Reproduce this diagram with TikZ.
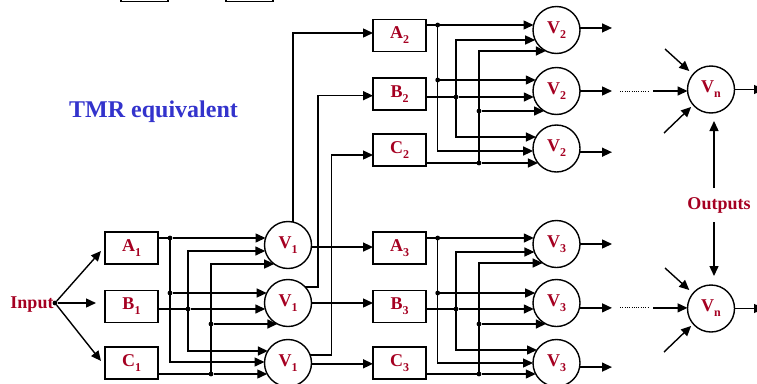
\documentclass[tikz,border=0pt]{standalone}
\usepackage{fontspec}
\setmainfont{Liberation Serif}
\usetikzlibrary{arrows.meta,calc}
\definecolor{lblred}{RGB}{165,0,33}
\definecolor{ttlblue}{RGB}{51,51,204}
\newcommand\lbl[2]{#1\raisebox{-5pt}{\fontsize{12}{12}\selectfont #2}}
\newcommand\hto[4]{\pgfmathtruncatemacro\myang{round(180+asin(((#3)-(#4))/23.5))}\draw[arr] (#1) -- (#1 -| #2.\myang);}
\begin{document}
\begin{tikzpicture}[x=1pt,y=-1pt,
  every node/.style={font=\fontsize{18}{18}\selectfont\bfseries, text=lblred},
  box/.style={draw, line width=1.4pt, minimum width=53pt, minimum height=32pt, inner sep=0pt, outer sep=0pt},
  vote/.style={draw, circle, line width=1.4pt, minimum size=47pt, inner sep=0pt, outer sep=0pt},
  ln/.style={line width=1.4pt, line cap=rect},
  arr/.style={line width=1.4pt, -{Triangle[length=10pt,width=9pt]}},
  jdot/.style={circle, fill=black, inner sep=0pt, minimum size=4.8pt},
  ttl/.style={font=\fontsize{24}{24}\selectfont\bfseries, text=ttlblue},
  dotln/.style={line width=0.9pt, dash pattern=on 1pt off 1.3pt},
]
\useasboundingbox (0,0) rectangle (757,383);
% boxes cut by the top edge
\draw[ln] (121,-12) rectangle (168,1.5);
\draw[ln] (226,-12) rectangle (273,1.5);

\node[ttl] (title) at (153.5,112) {TMR equivalent};
\node (inp) at (32,305) {Input};
\node (outp) at (719,205) {Outputs};

% modules
\node[box] (A1) at (131.5,248) {\lbl{A}{1}};
\node[box] (B1) at (131.5,306.5) {\lbl{B}{1}};
\node[box] (C1) at (131.5,363) {\lbl{C}{1}};
\node[box] (A2) at (399.5,35.5) {\lbl{A}{2}};
\node[box] (B2) at (399.5,94) {\lbl{B}{2}};
\node[box] (C2) at (399.5,150) {\lbl{C}{2}};
\node[box] (A3) at (399.5,248) {\lbl{A}{3}};
\node[box] (B3) at (399.5,306.5) {\lbl{B}{3}};
\node[box] (C3) at (399.5,363) {\lbl{C}{3}};
% voters
\node[vote] (V1a) at (288,245) {\lbl{V}{1}};
\node[vote] (V1b) at (288,303) {\lbl{V}{1}};
\node[vote] (V1c) at (288,363) {\lbl{V}{1}};
\node[vote] (V2a) at (556.5,30) {\lbl{V}{2}};
\node[vote] (V2b) at (556.5,91) {\lbl{V}{2}};
\node[vote] (V2c) at (556.5,148.5) {\lbl{V}{2}};
\node[vote] (V3a) at (556.5,244) {\lbl{V}{3}};
\node[vote] (V3b) at (556.5,303) {\lbl{V}{3}};
\node[vote] (V3c) at (556.5,363) {\lbl{V}{3}};
\node[vote] (Vn1) at (711,89.5) {\lbl{V}{n}};
\node[vote] (Vn2) at (711,308.5) {\lbl{V}{n}};

% input fan-out
\node[jdot] (fan) at (55,303) {};
\coordinate (ia) at (101,251);
\coordinate (ib) at (96,303);
\coordinate (ic) at (101,361);
\draw[arr] (fan) -- (ia);
\draw[arr] (fan) -- (ib);
\draw[arr] (fan) -- (ic);

% ---- stage 1 ----
\node[jdot] (d1a) at (170,238) {};
\node[jdot] (d1b) at (170,293) {};
\coordinate (c1a) at (170,362);
\draw[ln] ([yshift=10pt]A1.east) -- (d1a);
\draw[ln] (d1a) -- (c1a);
\hto{d1a}{V1a}{238}{245}
\hto{d1b}{V1b}{293}{303}
\hto{c1a}{V1c}{362}{363}
\node[jdot] (e1) at (188,309) {};
\coordinate (e1t) at (188,251);
\coordinate (e1b) at (188,351);
\draw[ln] ([yshift=-2.5pt]B1.east) -- (e1);
\draw[ln] (e1t) -- (e1b);
\hto{e1t}{V1a}{251}{245}
\hto{e1}{V1b}{309}{303}
\hto{e1b}{V1c}{351}{363}
\node[jdot] (f1b) at (211,324) {};
\node[jdot] (f1c) at (211,374) {};
\coordinate (f1t) at (211,264);
\draw[ln] ([yshift=-11pt]C1.east) -- (f1c);
\draw[ln] (f1c) -- (f1t);
\hto{f1t}{V1a}{264}{245}
\hto{f1b}{V1b}{324}{303}
\hto{f1c}{V1c}{374}{363}

% V1 outputs
\draw[arr] (V1a.355) -- (V1a.355 -| A3.west);
\draw[arr] (V1b.east) -- (V1b.east -| B3.west);
\draw[arr] (V1c.358) -- (V1c.358 -| C3.west);
\draw[arr] (V1a.78) |- ([yshift=2.5pt]A2.west);
\draw[arr] (V1b.43) -- ++(13,0) |- ([yshift=-1.7pt]B2.west);
\draw[arr] (V1c.20) -- ++(21.5,0) |- ([yshift=-5pt]C2.west);

% ---- stage 2 ----
\node[jdot] (d2a) at (437.7,25) {};
\node[jdot] (d2b) at (437.7,80) {};
\coordinate (c2a) at (437.7,151);
\draw[ln] ([yshift=10.5pt]A2.east) -- (d2a);
\draw[ln] (d2a) -- (c2a);
\hto{d2a}{V2a}{25}{30}
\hto{d2b}{V2b}{80}{91}
\hto{c2a}{V2c}{151}{148.5}
\node[jdot] (e2) at (456,97) {};
\coordinate (e2t) at (456,40);
\coordinate (e2b) at (456,137);
\draw[ln] ([yshift=-3pt]B2.east) -- (e2);
\draw[ln] (e2t) -- (e2b);
\hto{e2t}{V2a}{40}{30}
\hto{e2}{V2b}{97}{91}
\hto{e2b}{V2c}{137}{148.5}
\node[jdot] (f2b) at (479,111) {};
\node[jdot] (f2c) at (479,163) {};
\coordinate (f2t) at (479,51);
\draw[ln] ([yshift=-13pt]C2.east) -- (f2c);
\draw[ln] (f2c) -- (f2t);
\hto{f2t}{V2a}{51}{30}
\hto{f2b}{V2b}{111}{91}
\hto{f2c}{V2c}{163}{148.5}

% ---- stage 3 ----
\node[jdot] (d3a) at (437.7,238) {};
\node[jdot] (d3b) at (437.7,293) {};
\coordinate (c3a) at (437.7,363);
\draw[ln] ([yshift=10pt]A3.east) -- (d3a);
\draw[ln] (d3a) -- (c3a);
\hto{d3a}{V3a}{238}{244}
\hto{d3b}{V3b}{293}{303}
\hto{c3a}{V3c}{363}{363}
\node[jdot] (e3) at (456,309) {};
\coordinate (e3t) at (456,252);
\coordinate (e3b) at (456,350);
\draw[ln] ([yshift=-2.5pt]B3.east) -- (e3);
\draw[ln] (e3t) -- (e3b);
\hto{e3t}{V3a}{252}{244}
\hto{e3}{V3b}{309}{303}
\hto{e3b}{V3c}{350}{363}
\node[jdot] (f3b) at (479,324) {};
\node[jdot] (f3c) at (479,374) {};
\coordinate (f3t) at (479,263);
\draw[ln] ([yshift=-11pt]C3.east) -- (f3c);
\draw[ln] (f3c) -- (f3t);
\hto{f3t}{V3a}{263}{244}
\hto{f3b}{V3b}{324}{303}
\hto{f3c}{V3c}{374}{363}

% V2 / V3 outputs
\coordinate (ox) at (612,0);
\draw[arr] (V2a.5) -- (V2a.5 -| ox);
\draw[arr] (V2b.east) -- (V2b.east -| ox);
\draw[arr] (V2c.351) -- (V2c.351 -| ox);
\draw[arr] (V3a.east) -- (V3a.east -| ox);
\draw[arr] (V3b.348) -- (V3b.348 -| ox);
\draw[arr] (V3c.350) -- (V3c.350 -| ox);

% final voters
\coordinate (dl) at (620,0);
\coordinate (dr) at (649,0);
\coordinate (sl) at (653,0);
\draw[dotln] (V2b.east -| dl) -- (V2b.east -| dr);
\draw[arr] (V2b.east -| sl) -- (V2b.east -| Vn1.184);
\draw[dotln] (V3b.348 -| dl) -- (V3b.348 -| dr);
\draw[arr] (V3b.348 -| sl) -- (V3b.348 -| Vn2.west);

\coordinate (n1u) at (665,49);
\coordinate (n1l) at (664,133);
\coordinate (n2u) at (665,268);
\coordinate (n2l) at (664,352);
\draw[arr, shorten >=5pt] (n1u) -- (Vn1.140);
\draw[arr, shorten >=3pt] (n1l) -- (Vn1.221);
\draw[arr, shorten >=5pt] (n2u) -- (Vn2.140);
\draw[arr, shorten >=3pt] (n2l) -- (Vn2.221);

\coordinate (ou) at (714,188);
\coordinate (ol) at (714,222);
\draw[arr, shorten >=8pt] (ou) -- (ou |- Vn1.south);
\draw[arr, shorten >=9pt] (ol) -- (ol |- Vn2.north);

\coordinate (rx) at (764,0);
\draw[arr] (Vn1.east) -- (Vn1.east -| rx);
\draw[arr] (Vn2.east) -- (Vn2.east -| rx);
\end{tikzpicture}
\end{document}
